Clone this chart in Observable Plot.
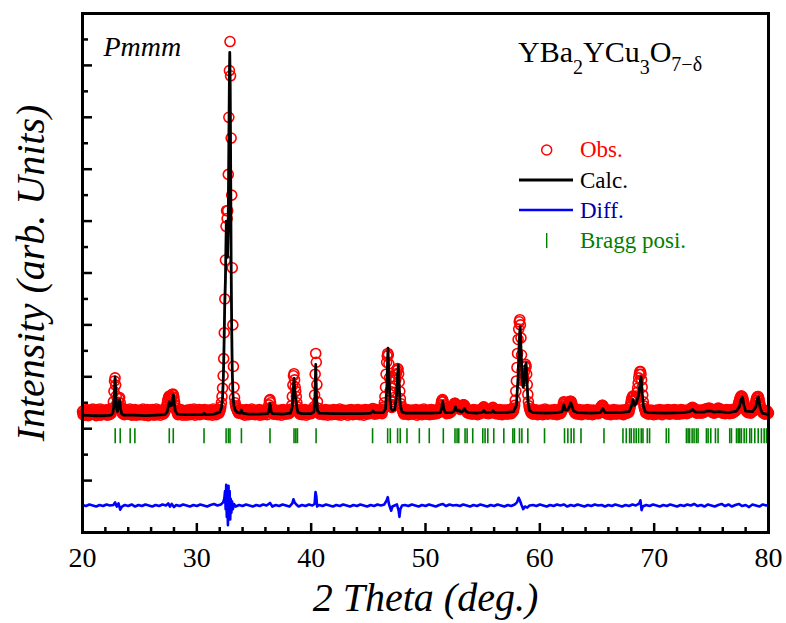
<!DOCTYPE html>
<html>
<head>
<meta charset="utf-8">
<script src="https://cdn.jsdelivr.net/npm/d3@7"></script>
<script src="https://cdn.jsdelivr.net/npm/@observablehq/plot@0.6"></script>
<style>
  html, body { margin: 0; padding: 0; background: white; }
  #chart svg { display: block; }
</style>
</head>
<body>
<div id="chart"></div>
<script>
// ---- axis ticks ----
const xMajor = [20, 30, 40, 50, 60, 70, 80];
const xMinor = [22, 24, 26, 28, 32, 34, 36, 38, 42, 44, 46, 48, 52, 54, 56, 58, 62, 64, 66, 68, 72, 74, 76, 78];
const yMajor = [0, 1, 2, 3, 4, 5, 6, 7, 8];
const yMinor = [0.5, 1.5, 2.5, 3.5, 4.5, 5.5, 6.5, 7.5, 8.5];

// ---- texts ----
const xLabel = "2 Theta (deg.)";
const yLabel = "Intensity (arb. Units)";
const spaceGroup = "Pmmm";
const legendNames = ["Obs.", "Calc.", "Diff.", "Bragg posi."];

// ---- observed pattern: start 20°, step 0.05°, one row per degree ----
const obsStart = 20, obsStep = 0.05;
const obsY = [
1.33,1.27,1.35,1.30,1.26,1.34,1.31,1.37,1.28,1.32,1.25,1.35,1.30,1.33,1.27,1.36,1.29,1.31,1.38,1.28,
1.30,1.36,1.28,1.33,1.25,1.31,1.37,1.29,1.34,1.27,1.32,1.38,1.26,1.30,1.35,1.28,1.33,1.29,1.36,1.31,
1.28,1.34,1.31,1.26,1.37,1.30,1.33,1.27,1.35,1.32,1.29,1.33,1.36,1.40,1.52,1.72,1.92,1.98,1.84,1.63,
1.48,1.42,1.45,1.51,1.58,1.60,1.50,1.41,1.36,1.33,1.29,1.35,1.31,1.27,1.34,1.30,1.37,1.28,1.32,1.35,
1.35,1.29,1.32,1.38,1.27,1.33,1.30,1.26,1.36,1.31,1.34,1.28,1.37,1.30,1.26,1.33,1.29,1.35,1.31,1.27,
1.32,1.36,1.27,1.31,1.34,1.29,1.38,1.30,1.26,1.33,1.35,1.28,1.31,1.37,1.29,1.25,1.34,1.32,1.28,1.36,
1.29,1.33,1.37,1.28,1.31,1.26,1.35,1.32,1.30,1.38,1.27,1.34,1.29,1.33,1.36,1.30,1.26,1.35,1.31,1.34,
1.31,1.28,1.35,1.30,1.33,1.37,1.38,1.42,1.48,1.54,1.58,1.62,1.63,1.60,1.56,1.58,1.62,1.66,1.67,1.65,
1.60,1.52,1.45,1.40,1.36,1.34,1.30,1.27,1.35,1.31,1.28,1.34,1.37,1.29,1.32,1.26,1.35,1.30,1.33,1.28,
1.34,1.30,1.26,1.36,1.31,1.29,1.35,1.32,1.27,1.37,1.30,1.33,1.28,1.35,1.31,1.38,1.29,1.26,1.34,1.32,
1.30,1.35,1.28,1.32,1.37,1.27,1.33,1.30,1.36,1.29,1.34,1.31,1.35,1.37,1.30,1.28,1.33,1.36,1.29,1.32,
1.27,1.33,1.36,1.30,1.28,1.35,1.31,1.26,1.34,1.38,1.29,1.32,1.35,1.30,1.27,1.36,1.33,1.31,1.37,1.30,
1.34,1.37,1.42,1.50,1.62,1.78,2.02,2.35,2.85,3.50,4.25,4.90,5.20,5.05,5.20,5.90,7.00,7.90,8.46,7.80,
6.60,5.50,4.10,3.00,2.20,1.80,1.60,1.50,1.44,1.40,1.38,1.35,1.33,1.30,1.34,1.31,1.36,1.37,1.33,1.29,
1.32,1.28,1.35,1.31,1.26,1.34,1.37,1.29,1.33,1.30,1.36,1.27,1.32,1.35,1.29,1.31,1.38,1.28,1.33,1.30,
1.36,1.30,1.27,1.33,1.31,1.35,1.28,1.34,1.30,1.37,1.26,1.32,1.29,1.35,1.31,1.27,1.34,1.36,1.30,1.33,
1.29,1.34,1.31,1.27,1.36,1.38,1.46,1.54,1.56,1.50,1.41,1.36,1.30,1.34,1.28,1.33,1.37,1.29,1.32,1.35,
1.31,1.27,1.35,1.30,1.33,1.28,1.36,1.32,1.26,1.34,1.30,1.37,1.29,1.33,1.31,1.35,1.28,1.32,1.36,1.30,
1.33,1.29,1.35,1.31,1.34,1.38,1.45,1.62,1.84,2.02,2.06,1.94,1.80,1.72,1.62,1.50,1.42,1.37,1.34,1.31,
1.28,1.34,1.30,1.36,1.27,1.32,1.35,1.29,1.33,1.37,1.30,1.26,1.34,1.31,1.35,1.28,1.33,1.30,1.36,1.32,
1.29,1.35,1.31,1.34,1.37,1.42,1.65,2.05,2.45,2.28,1.85,1.52,1.40,1.35,1.31,1.28,1.34,1.30,1.36,1.29,
1.33,1.30,1.27,1.35,1.31,1.37,1.28,1.34,1.30,1.26,1.33,1.36,1.29,1.32,1.35,1.30,1.27,1.34,1.31,1.37,
1.30,1.34,1.28,1.32,1.36,1.29,1.33,1.27,1.35,1.31,1.38,1.30,1.26,1.34,1.32,1.29,1.36,1.31,1.28,1.33,
1.35,1.29,1.33,1.30,1.26,1.36,1.31,1.34,1.28,1.32,1.37,1.30,1.33,1.27,1.35,1.31,1.29,1.36,1.32,1.30,
1.28,1.33,1.37,1.30,1.34,1.27,1.32,1.35,1.30,1.29,1.36,1.31,1.26,1.34,1.33,1.37,1.30,1.28,1.35,1.32,
1.31,1.36,1.29,1.33,1.30,1.34,1.35,1.38,1.39,1.36,1.31,1.28,1.34,1.30,1.37,1.32,1.29,1.35,1.31,1.34,
1.30,1.35,1.31,1.34,1.29,1.36,1.38,1.42,1.50,1.62,1.80,2.05,2.28,2.40,2.45,2.42,2.25,1.98,1.72,1.55,
1.46,1.41,1.42,1.46,1.52,1.60,1.70,1.82,1.95,2.06,2.12,2.16,2.15,2.06,1.90,1.72,1.58,1.48,1.42,1.38,
1.35,1.31,1.28,1.34,1.30,1.36,1.29,1.33,1.37,1.30,1.27,1.35,1.32,1.29,1.34,1.31,1.36,1.28,1.33,1.30,
1.34,1.29,1.32,1.37,1.30,1.26,1.35,1.31,1.33,1.28,1.36,1.30,1.34,1.31,1.27,1.35,1.32,1.38,1.29,1.33,
1.31,1.35,1.28,1.33,1.30,1.36,1.32,1.27,1.34,1.30,1.37,1.29,1.33,1.35,1.28,1.31,1.36,1.30,1.34,1.29,
1.33,1.30,1.36,1.31,1.34,1.37,1.40,1.46,1.52,1.55,1.56,1.52,1.46,1.40,1.36,1.32,1.35,1.29,1.33,1.31,
1.36,1.30,1.34,1.31,1.35,1.33,1.36,1.38,1.41,1.45,1.48,1.49,1.49,1.47,1.45,1.42,1.42,1.44,1.43,1.40,
1.38,1.37,1.38,1.40,1.42,1.44,1.46,1.46,1.45,1.43,1.40,1.37,1.35,1.31,1.34,1.30,1.36,1.32,1.29,1.35,
1.31,1.34,1.28,1.33,1.37,1.30,1.35,1.29,1.32,1.36,1.31,1.27,1.34,1.30,1.36,1.33,1.29,1.35,1.37,1.32,
1.38,1.41,1.42,1.40,1.37,1.33,1.30,1.35,1.31,1.34,1.29,1.36,1.32,1.30,1.35,1.33,1.38,1.40,1.41,1.39,
1.35,1.31,1.34,1.29,1.33,1.36,1.30,1.35,1.28,1.32,1.37,1.31,1.34,1.30,1.27,1.35,1.32,1.36,1.29,1.33,
1.30,1.36,1.32,1.28,1.35,1.31,1.34,1.37,1.30,1.33,1.29,1.35,1.32,1.38,1.34,1.40,1.45,1.55,1.72,1.92,
2.18,2.45,2.72,2.92,3.06,3.10,3.00,2.75,2.42,2.12,1.96,1.92,1.98,2.10,2.20,2.24,2.20,2.05,1.85,1.66,
1.52,1.44,1.39,1.36,1.33,1.30,1.35,1.31,1.28,1.34,1.37,1.30,1.33,1.29,1.36,1.32,1.27,1.35,1.31,1.34,
1.29,1.33,1.36,1.30,1.34,1.27,1.32,1.35,1.31,1.38,1.29,1.33,1.30,1.36,1.28,1.34,1.31,1.35,1.30,1.33,
1.36,1.30,1.34,1.28,1.33,1.31,1.37,1.29,1.35,1.32,1.27,1.34,1.30,1.36,1.31,1.33,1.29,1.35,1.32,1.38,
1.42,1.48,1.52,1.51,1.47,1.43,1.42,1.43,1.45,1.47,1.48,1.50,1.52,1.53,1.53,1.52,1.48,1.44,1.40,1.37,
1.34,1.31,1.36,1.29,1.33,1.30,1.35,1.28,1.32,1.37,1.31,1.34,1.30,1.27,1.35,1.32,1.36,1.29,1.33,1.31,
1.35,1.30,1.33,1.37,1.28,1.34,1.31,1.29,1.36,1.32,1.30,1.35,1.27,1.33,1.36,1.31,1.34,1.29,1.32,1.35,
1.30,1.34,1.29,1.33,1.36,1.31,1.38,1.42,1.44,1.45,1.45,1.43,1.40,1.37,1.33,1.30,1.35,1.31,1.28,1.34,
1.32,1.36,1.30,1.34,1.27,1.33,1.31,1.35,1.29,1.37,1.32,1.30,1.34,1.28,1.33,1.36,1.31,1.29,1.35,1.32,
1.29,1.34,1.31,1.36,1.30,1.33,1.27,1.35,1.32,1.29,1.37,1.31,1.34,1.30,1.33,1.36,1.32,1.38,1.42,1.48,
1.54,1.59,1.62,1.63,1.61,1.57,1.55,1.56,1.59,1.63,1.70,1.78,1.88,1.98,2.05,2.10,2.10,2.05,1.94,1.80,
1.65,1.52,1.44,1.39,1.36,1.31,1.34,1.30,1.36,1.32,1.28,1.35,1.31,1.33,1.29,1.36,1.30,1.34,1.31,1.27,
1.33,1.30,1.35,1.31,1.28,1.36,1.32,1.34,1.29,1.33,1.37,1.30,1.35,1.31,1.27,1.34,1.32,1.36,1.30,1.33,
1.31,1.35,1.29,1.33,1.37,1.30,1.34,1.28,1.32,1.36,1.31,1.29,1.35,1.33,1.30,1.37,1.31,1.34,1.28,1.33,
1.36,1.30,1.34,1.31,1.28,1.35,1.32,1.37,1.30,1.33,1.29,1.36,1.31,1.34,1.30,1.35,1.33,1.29,1.36,1.32,
1.34,1.31,1.35,1.37,1.38,1.40,1.39,1.41,1.38,1.40,1.36,1.33,1.37,1.31,1.34,1.30,1.36,1.32,1.35,1.31,
1.33,1.36,1.30,1.34,1.32,1.35,1.31,1.37,1.33,1.36,1.38,1.35,1.37,1.39,1.36,1.38,1.40,1.36,1.39,1.37,
1.35,1.32,1.36,1.31,1.34,1.30,1.35,1.33,1.37,1.32,1.36,1.38,1.40,1.37,1.39,1.35,1.33,1.36,1.31,1.34,
1.30,1.35,1.32,1.36,1.29,1.33,1.31,1.37,1.30,1.34,1.32,1.36,1.29,1.35,1.31,1.33,1.37,1.30,1.34,1.32,
1.36,1.33,1.38,1.35,1.37,1.40,1.42,1.46,1.50,1.54,1.58,1.61,1.63,1.63,1.62,1.59,1.55,1.50,1.45,1.41,
1.38,1.35,1.33,1.37,1.31,1.34,1.36,1.32,1.35,1.30,1.34,1.37,1.33,1.36,1.35,1.40,1.44,1.49,1.54,1.58,
1.61,1.62,1.62,1.59,1.54,1.48,1.42,1.38,1.35,1.32,1.36,1.30,1.34,1.31,1.28,1.33,1.30,1.35,1.29,1.32,
1.30
];
const obsData = obsY.map((y, i) => [Math.round((obsStart + i * obsStep) * 100) / 100, y]);

// ---- calculated profile [2θ, intensity] ----
const calcData = [
[20,1.26],[21,1.25],[22,1.25],[22.5,1.26],
[22.65,1.3],[22.72,1.4],[22.78,1.65],[22.85,2.0],[22.92,1.65],[22.98,1.4],[23.05,1.33],[23.15,1.42],[23.25,1.56],[23.32,1.4],[23.42,1.29],[23.6,1.26],
[24.5,1.26],[25.5,1.25],[26.5,1.26],[27.2,1.27],
[27.4,1.32],[27.5,1.42],[27.6,1.52],[27.7,1.44],[27.8,1.45],[27.9,1.6],[27.95,1.65],[28.02,1.5],[28.12,1.34],[28.3,1.28],
[29,1.27],[30,1.27],[30.5,1.27],[30.63,1.3],[30.75,1.27],[31.5,1.28],[32,1.32],
[32.15,1.4],[32.25,1.6],[32.32,2.0],[32.38,2.6],[32.44,3.4],[32.5,3.85],[32.55,4.6],[32.58,5.0],[32.62,4.7],[32.68,4.3],[32.74,4.8],[32.8,6.5],[32.85,7.8],[32.88,8.25],[32.92,7.6],[32.96,6.0],[33.0,4.2],[33.05,2.9],[33.1,2.1],[33.16,1.65],[33.24,1.45],[33.35,1.36],[33.5,1.32],[33.8,1.3],[33.9,1.36],[34.0,1.3],[34.5,1.28],
[35.5,1.28],[36.2,1.29],[36.3,1.33],[36.4,1.49],[36.5,1.33],[36.6,1.29],
[37.5,1.28],[38.2,1.3],[38.35,1.42],[38.45,1.8],[38.5,1.97],[38.56,1.75],[38.62,1.6],[38.68,1.55],[38.75,1.4],[38.85,1.31],[39.2,1.29],
[40.0,1.29],[40.25,1.33],[40.33,1.6],[40.4,2.24],[40.47,1.6],[40.55,1.35],[40.7,1.3],
[42,1.29],[43.5,1.29],[44.5,1.29],[45.2,1.3],[45.4,1.34],[45.55,1.31],[46.3,1.31],
[46.5,1.38],[46.62,1.8],[46.72,2.55],[46.8,2.0],[46.9,1.55],[47.0,1.38],[47.1,1.35],[47.3,1.37],[47.45,1.6],[47.55,2.0],[47.62,2.23],[47.7,1.8],[47.8,1.45],[47.95,1.32],[48.3,1.3],
[49.5,1.3],[50.5,1.3],[51.3,1.31],[51.42,1.4],[51.5,1.52],[51.6,1.38],[51.75,1.31],
[52.3,1.31],[52.5,1.34],[52.62,1.42],[52.72,1.36],[52.85,1.34],[52.95,1.36],[53.05,1.33],[53.2,1.32],[53.4,1.39],[53.55,1.33],[53.8,1.31],
[54.5,1.3],[55.0,1.32],[55.1,1.35],[55.25,1.31],[55.8,1.32],[55.9,1.35],[56.05,1.31],[57,1.31],
[57.7,1.33],[57.95,1.45],[58.1,2.0],[58.2,2.7],[58.28,2.97],[58.36,2.5],[58.45,1.95],[58.55,1.8],[58.62,1.9],[58.72,2.2],[58.8,2.26],[58.88,1.9],[58.97,1.5],[59.1,1.35],[59.4,1.31],
[60.5,1.3],[61.5,1.31],[61.95,1.33],[62.1,1.46],[62.22,1.36],[62.4,1.36],[62.55,1.4],[62.7,1.5],[62.8,1.45],[62.95,1.34],[63.3,1.31],
[64.5,1.3],[65.3,1.31],[65.5,1.39],[65.7,1.31],[67,1.31],
[67.8,1.33],[68.0,1.42],[68.15,1.56],[68.28,1.45],[68.45,1.5],[68.65,1.65],[68.78,1.9],[68.85,2.0],[68.95,1.7],[69.05,1.45],[69.2,1.33],[69.5,1.31],
[71,1.3],[72.5,1.31],[73.1,1.33],[73.35,1.37],[73.6,1.32],[74.4,1.32],[74.6,1.34],[74.95,1.34],[75.2,1.32],[75.6,1.33],[76.5,1.31],
[77.2,1.34],[77.45,1.42],[77.62,1.58],[77.72,1.61],[77.85,1.45],[78.0,1.34],[78.6,1.33],[78.9,1.42],[79.05,1.6],[79.12,1.61],[79.25,1.42],[79.45,1.3],[80,1.27]
];

// ---- difference curve [2θ, value] ----
const diffData = [
[20,-0.47],[20.3,-0.49],[20.6,-0.46],[20.9,-0.48],[21.2,-0.5],[21.5,-0.47],[21.8,-0.49],[22.1,-0.46],[22.4,-0.48],[22.7,-0.47],[22.85,-0.42],[23.0,-0.5],[23.15,-0.44],[23.3,-0.56],[23.45,-0.5],[23.7,-0.47],
[24.0,-0.49],[24.3,-0.46],[24.6,-0.5],[24.9,-0.47],[25.2,-0.49],[25.5,-0.46],[25.8,-0.48],[26.1,-0.5],[26.4,-0.47],[26.7,-0.49],[27.0,-0.46],[27.3,-0.48],[27.5,-0.44],[27.65,-0.5],[27.8,-0.45],[28.0,-0.51],[28.2,-0.47],
[28.5,-0.49],[28.8,-0.46],[29.1,-0.48],[29.4,-0.5],[29.7,-0.47],[30.0,-0.49],[30.3,-0.46],[30.6,-0.48],[30.9,-0.5],[31.2,-0.47],[31.5,-0.45],[31.8,-0.48],[32.1,-0.46],
[32.3,-0.42],[32.4,-0.35],[32.47,-0.2],[32.52,-0.55],[32.57,-0.08],[32.62,-0.7],[32.67,-0.3],[32.72,-0.86],[32.77,-0.1],[32.82,-0.6],[32.87,-0.2],[32.92,-0.75],[32.97,-0.35],[33.02,-0.62],[33.08,-0.4],[33.15,-0.55],[33.25,-0.45],[33.4,-0.5],
[33.7,-0.47],[34.0,-0.49],[34.3,-0.46],[34.6,-0.48],[34.9,-0.5],[35.2,-0.47],[35.5,-0.49],[35.8,-0.46],[36.1,-0.48],[36.4,-0.43],[36.6,-0.5],[36.9,-0.47],[37.2,-0.49],[37.5,-0.46],[37.8,-0.48],[38.1,-0.5],
[38.35,-0.44],[38.45,-0.36],[38.55,-0.42],[38.7,-0.46],[38.9,-0.5],[39.2,-0.47],[39.5,-0.49],[39.8,-0.46],[40.1,-0.48],[40.3,-0.45],[40.38,-0.22],[40.45,-0.3],[40.52,-0.5],[40.7,-0.47],
[41.0,-0.49],[41.3,-0.46],[41.6,-0.48],[41.9,-0.5],[42.2,-0.47],[42.5,-0.49],[42.8,-0.46],[43.1,-0.48],[43.4,-0.5],[43.7,-0.47],[44.0,-0.49],[44.3,-0.46],[44.6,-0.48],[44.9,-0.5],[45.2,-0.47],[45.5,-0.49],[45.8,-0.46],[46.1,-0.48],
[46.4,-0.46],[46.6,-0.38],[46.7,-0.32],[46.8,-0.45],[46.9,-0.52],[47.0,-0.58],[47.1,-0.5],[47.3,-0.48],[47.5,-0.46],[47.65,-0.58],[47.72,-0.7],[47.8,-0.55],[47.95,-0.48],
[48.2,-0.47],[48.5,-0.49],[48.8,-0.46],[49.1,-0.48],[49.4,-0.5],[49.7,-0.47],[50.0,-0.49],[50.3,-0.46],[50.6,-0.48],[50.9,-0.5],[51.2,-0.47],[51.5,-0.45],[51.8,-0.49],[52.1,-0.46],[52.4,-0.48],[52.7,-0.47],[53.0,-0.49],[53.3,-0.46],[53.6,-0.48],[53.9,-0.5],
[54.2,-0.47],[54.5,-0.49],[54.8,-0.46],[55.1,-0.48],[55.4,-0.5],[55.7,-0.47],[56.0,-0.49],[56.3,-0.46],[56.6,-0.48],[56.9,-0.5],[57.2,-0.47],[57.5,-0.49],[57.8,-0.46],
[58.0,-0.42],[58.15,-0.33],[58.25,-0.38],[58.4,-0.47],[58.55,-0.55],[58.7,-0.5],[58.9,-0.52],[59.1,-0.48],
[59.4,-0.47],[59.7,-0.49],[60.0,-0.46],[60.3,-0.48],[60.6,-0.5],[60.9,-0.47],[61.2,-0.49],[61.5,-0.46],[61.8,-0.48],[62.1,-0.46],[62.4,-0.5],[62.7,-0.47],[63.0,-0.49],[63.3,-0.46],[63.6,-0.48],[63.9,-0.5],
[64.2,-0.47],[64.5,-0.49],[64.8,-0.46],[65.1,-0.48],[65.4,-0.47],[65.7,-0.5],[66.0,-0.47],[66.3,-0.49],[66.6,-0.46],[66.9,-0.48],[67.2,-0.5],[67.5,-0.47],[67.8,-0.49],[68.1,-0.46],[68.4,-0.48],
[68.7,-0.44],[68.8,-0.38],[68.9,-0.57],[69.0,-0.5],[69.3,-0.47],[69.6,-0.49],[69.9,-0.46],[70.2,-0.48],[70.5,-0.5],[70.8,-0.47],[71.1,-0.49],[71.4,-0.46],[71.7,-0.48],[72.0,-0.5],[72.3,-0.47],[72.6,-0.49],[72.9,-0.46],
[73.2,-0.48],[73.5,-0.45],[73.8,-0.49],[74.1,-0.47],[74.4,-0.5],[74.7,-0.46],[75.0,-0.48],[75.3,-0.5],[75.6,-0.47],[75.9,-0.45],[76.2,-0.49],[76.5,-0.46],[76.8,-0.5],[77.1,-0.47],[77.4,-0.45],[77.7,-0.49],
[78.0,-0.47],[78.3,-0.51],[78.6,-0.46],[78.9,-0.48],[79.2,-0.5],[79.5,-0.46],[79.8,-0.48],[80,-0.47]
];

// ---- Bragg reflection positions (2θ) ----
const braggPos = [
22.86, 23.30, 24.17, 24.58, 27.59, 27.94, 30.63, 32.56, 32.76, 32.90, 33.90, 36.40, 38.50, 38.66, 38.80, 40.43,
45.37, 46.69, 46.92, 47.56, 47.79, 48.38, 49.46, 50.33, 51.56, 52.58, 52.76, 52.91, 53.46, 53.64, 54.13,
55.01, 55.21, 55.45, 55.97, 56.85, 57.64, 57.78, 58.22, 58.43, 58.95, 60.41, 62.16, 62.45, 62.74, 62.98, 63.60,
65.61, 67.27, 67.56, 67.85, 68.00, 68.23, 68.43, 68.64, 68.87, 69.02, 69.40, 69.60, 71.06, 71.27,
72.82, 72.97, 73.10, 73.32, 73.49, 73.69, 73.84, 74.57, 74.72, 74.95, 75.36, 75.59, 76.61, 76.76,
77.20, 77.35, 77.49, 77.63, 77.87, 78.07, 78.36, 78.51, 78.80, 79.10, 79.38, 79.62, 79.82, 79.97
];
const braggLow = 0.71, braggHigh = 1.0;

const FONT = "'Liberation Serif', 'Times New Roman', serif";
const W = 786, H = 623, ML = 82, MR = 18, MT = 13, MB = 91;
const frameW = W - ML - MR, frameH = H - MT - MB;

const chart = Plot.plot({
  width: W, height: H,
  marginLeft: ML, marginRight: MR, marginTop: MT, marginBottom: MB,
  style: {fontFamily: FONT, background: "white", color: "black"},
  x: {domain: [20, 80], axis: null},
  y: {domain: [-1, 9], axis: null},
  marks: [
    Plot.ruleX(braggPos, {x: d => d, y1: braggLow, y2: braggHigh, stroke: "#008000", strokeWidth: 1.6}),
    Plot.dot(obsData, {x: d => d[0], y: d => d[1], r: 5, stroke: "#ff0000", strokeWidth: 1.6, fill: "none"}),
    Plot.line(calcData, {x: d => d[0], y: d => d[1], stroke: "black", strokeWidth: 2.8, curve: "linear"}),
    Plot.line(diffData, {x: d => d[0], y: d => d[1], stroke: "#0000ff", strokeWidth: 2.6}),
    Plot.frame({stroke: "black", strokeWidth: 3}),
    // inward ticks
    Plot.ruleX(xMajor, {x: d => d, insetTop: frameH - 9, stroke: "black", strokeWidth: 2.5}),
    Plot.ruleX(xMinor, {x: d => d, insetTop: frameH - 5, stroke: "black", strokeWidth: 2.5}),
    Plot.ruleY(yMajor, {y: d => d, insetRight: frameW - 10, stroke: "black", strokeWidth: 2.5}),
    Plot.ruleY(yMinor, {y: d => d, insetRight: frameW - 6, stroke: "black", strokeWidth: 2.5}),
    Plot.axisX(xMajor, {tickSize: 0, tickPadding: 15, fontSize: 28, label: null, tickFormat: d => String(d)}),
    Plot.text([xLabel], {frameAnchor: "bottom", dy: 78, lineAnchor: "bottom", textAnchor: "middle", fontSize: 40, fontStyle: "italic", fill: "black"}),
    Plot.text([yLabel], {frameAnchor: "left", dx: -39, rotate: -90, lineAnchor: "bottom", textAnchor: "middle", fontSize: 40, fontStyle: "italic", fill: "black"}),
    Plot.text([spaceGroup], {frameAnchor: "top-left", dx: 21, dy: 42, lineAnchor: "bottom", textAnchor: "start", fontSize: 28, fontStyle: "italic", fill: "black"})
  ]
});

document.getElementById("chart").appendChild(chart);

// ---- formula and legend (pixel layout inside the frame) ----
const svg = d3.select(chart);
const g = svg.append("g").attr("font-family", FONT).attr("text-anchor", "start");

const f = g.append("text").attr("x", 518).attr("y", 62).attr("font-size", 30).attr("fill", "black").attr("text-anchor", "start");
f.append("tspan").text("YBa");
f.append("tspan").attr("font-size", 20).attr("dy", 12).text("2");
f.append("tspan").attr("dy", -12).text("YCu");
f.append("tspan").attr("font-size", 20).attr("dy", 12).text("3");
f.append("tspan").attr("dy", -12).text("O");
f.append("tspan").attr("font-size", 20).attr("dy", 9).text("7\u2212\u03b4");

const legendColors = ["#ff0000", "black", "#0000a8", "#008000"];
const legendBaselines = [157, 188, 218, 248];
legendNames.forEach((name, i) => {
  g.append("text").attr("x", 580).attr("y", legendBaselines[i]).attr("font-size", 23)
    .attr("text-anchor", "start").attr("fill", legendColors[i]).text(name);
});
g.append("circle").attr("cx", 546.7).attr("cy", 150).attr("r", 5).attr("fill", "none").attr("stroke", "#ff0000").attr("stroke-width", 1.5);
g.append("line").attr("x1", 519).attr("x2", 573).attr("y1", 180).attr("y2", 180).attr("stroke", "black").attr("stroke-width", 2.8);
g.append("line").attr("x1", 519).attr("x2", 573).attr("y1", 210).attr("y2", 210).attr("stroke", "#0000ff").attr("stroke-width", 2.6);
g.append("line").attr("x1", 546.7).attr("x2", 546.7).attr("y1", 233).attr("y2", 248).attr("stroke", "#008000").attr("stroke-width", 1.4);
</script>
</body>
</html>
